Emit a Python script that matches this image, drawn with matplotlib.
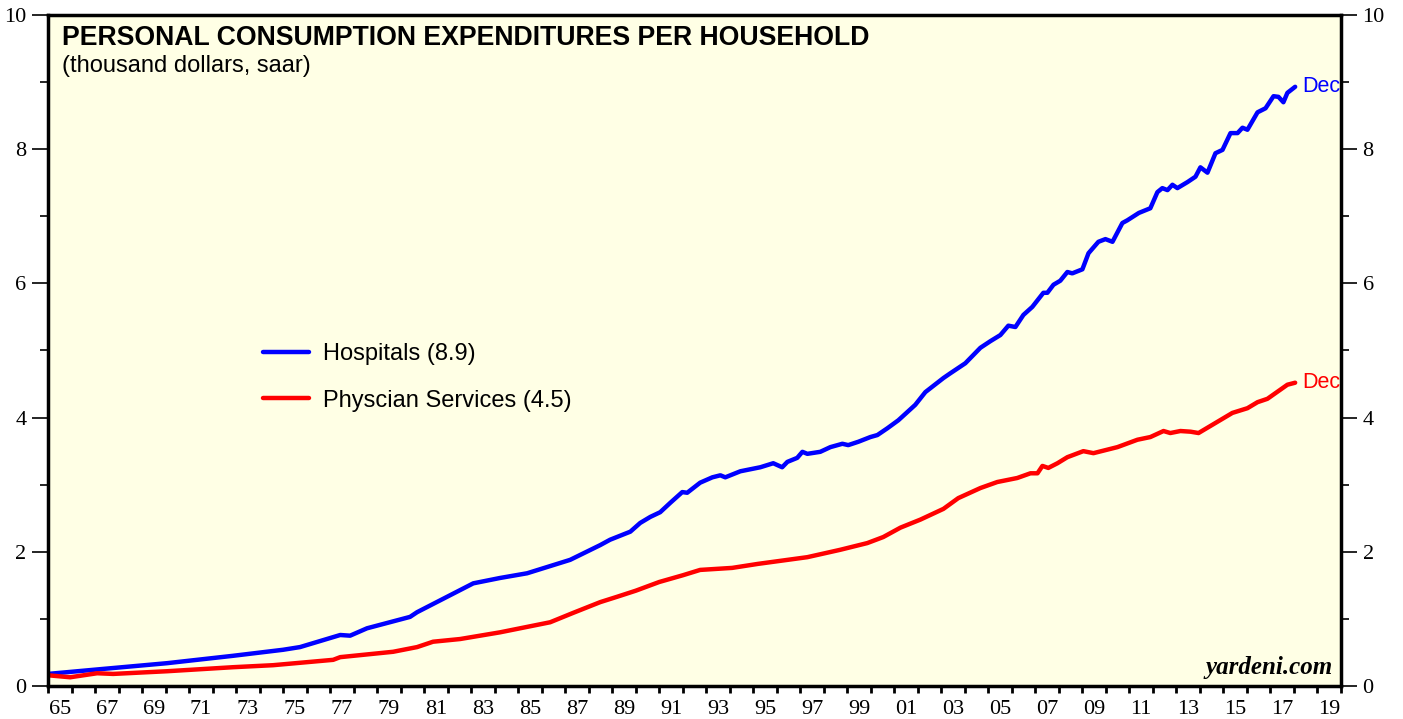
import matplotlib.pyplot as plt
from matplotlib.ticker import FixedLocator, NullFormatter

# readings (thousand dollars, saar), last point = Dec 2017
hosp_t = [1965.0, 1967.2, 1970.06, 1972.87, 1975.0, 1975.72, 1977.43, 1977.85, 1978.57, 1980.4,
          1980.7, 1983.09, 1984.23, 1985.38, 1987.21, 1988.49, 1988.91, 1989.77, 1990.19, 1990.62,
          1991.04, 1991.47, 1991.98, 1992.19, 1992.74, 1993.26, 1993.6, 1993.81, 1994.45, 1995.3,
          1995.85, 1996.23, 1996.45, 1996.87, 1997.09, 1997.3, 1997.85, 1998.28, 1998.79, 1999.04,
          1999.47, 1999.98, 2000.28, 2000.7, 2001.17, 2001.89, 2002.32, 2003.09, 2003.38, 2004.02,
          2004.66, 2005.09, 2005.51, 2005.85, 2006.15, 2006.49, 2006.87, 2007.34, 2007.51, 2007.77,
          2008.06, 2008.36, 2008.57, 2009.0, 2009.26, 2009.68, 2009.98, 2010.28, 2010.7, 2010.91,
          2011.4, 2011.89, 2012.19, 2012.4, 2012.62, 2012.83, 2013.04, 2013.47, 2013.81, 2014.02,
          2014.32, 2014.66, 2014.96, 2015.3, 2015.6, 2015.81, 2016.02, 2016.45, 2016.79, 2017.13,
          2017.34, 2017.55, 2017.72, 2018.05]
hospitals = [0.18, 0.25, 0.34, 0.45, 0.54, 0.58, 0.76, 0.75, 0.86, 1.03,
             1.10, 1.53, 1.61, 1.68, 1.88, 2.10, 2.18, 2.30, 2.43, 2.52,
             2.59, 2.73, 2.89, 2.88, 3.03, 3.11, 3.14, 3.11, 3.20, 3.26,
             3.32, 3.26, 3.34, 3.40, 3.49, 3.46, 3.49, 3.56, 3.61, 3.59,
             3.64, 3.71, 3.74, 3.84, 3.96, 4.19, 4.38, 4.59, 4.66, 4.81,
             5.04, 5.14, 5.23, 5.37, 5.35, 5.53, 5.65, 5.86, 5.86, 5.98,
             6.04, 6.17, 6.15, 6.21, 6.45, 6.62, 6.66, 6.62, 6.90, 6.94,
             7.05, 7.12, 7.36, 7.42, 7.39, 7.47, 7.42, 7.51, 7.59, 7.73,
             7.65, 7.94, 7.99, 8.24, 8.24, 8.32, 8.29, 8.55, 8.61, 8.79,
             8.78, 8.70, 8.84, 8.93]

phys_t = [1965.0, 1965.94, 1967.09, 1967.77, 1970.06, 1972.87, 1974.57, 1977.13, 1977.43, 1979.68,
          1980.7, 1981.38, 1982.53, 1984.23, 1986.36, 1987.34, 1988.49, 1989.21, 1990.0, 1991.0,
          1992.0, 1992.74, 1994.1, 1995.2, 1997.3, 1998.7, 1999.85, 2000.53, 2001.26, 2002.11,
          2003.09, 2003.72, 2004.66, 2005.38, 2006.23, 2006.79, 2007.09, 2007.3, 2007.55, 2007.94,
          2008.36, 2009.04, 2009.47, 2010.49, 2011.34, 2011.89, 2012.45, 2012.74, 2013.17, 2013.6,
          2013.94, 2014.66, 2015.38, 2016.02, 2016.45, 2016.87, 2017.72, 2018.05]
physicians = [0.16, 0.13, 0.19, 0.18, 0.22, 0.28, 0.31, 0.39, 0.43, 0.51,
              0.58, 0.66, 0.70, 0.80, 0.95, 1.09, 1.25, 1.33, 1.42, 1.55,
              1.65, 1.73, 1.76, 1.82, 1.92, 2.03, 2.13, 2.22, 2.36, 2.48,
              2.64, 2.80, 2.95, 3.04, 3.10, 3.17, 3.17, 3.28, 3.25, 3.32,
              3.41, 3.50, 3.47, 3.56, 3.67, 3.71, 3.80, 3.77, 3.80, 3.79,
              3.77, 3.92, 4.07, 4.14, 4.23, 4.28, 4.49, 4.52]

BLUE = "#0000ff"
RED = "#ff0000"
SERIF = "Liberation Serif"
SANS = "Liberation Sans"

fig = plt.figure(figsize=(14.03, 7.19), dpi=100)
ax = fig.add_axes([48 / 1403, 33 / 719, 1293 / 1403, 671 / 719])
ax.set_facecolor("#ffffe5")

ax.plot(hosp_t, hospitals, color=BLUE, lw=3.2, solid_capstyle="round",
        solid_joinstyle="round", label="Hospitals (8.9)")
ax.plot(phys_t, physicians, color=RED, lw=3.2, solid_capstyle="round",
        solid_joinstyle="round", label="Physcian Services (4.5)")

ax.set_xlim(1965, 2020)
ax.set_ylim(0, 10)

# x: tick marks on year boundaries, labels centred on odd years
ax.xaxis.set_major_locator(FixedLocator(range(1965, 2021)))
ax.xaxis.set_major_formatter(NullFormatter())
ax.xaxis.set_minor_locator(FixedLocator([y + 0.5 for y in range(1965, 2020, 2)]))
ax.set_xticklabels([f"{y % 100:02d}" for y in range(1965, 2020, 2)], minor=True)
ax.tick_params(axis="x", which="major", direction="out", length=5, width=2)
ax.tick_params(axis="x", which="minor", length=0, pad=10, labelsize=16)

ax.set_yticks(range(0, 11, 2))
ax.set_yticks(range(1, 10, 2), minor=True)
ax.tick_params(axis="y", which="major", direction="out", length=11.5, width=1.2,
               labelsize=16, left=True, right=True, labelleft=True, labelright=True, pad=4)
ax.tick_params(axis="y", which="minor", direction="out", length=6, width=1.2,
               left=True, right=True)

for lab in ax.get_xticklabels(minor=True) + ax.get_yticklabels():
    lab.set_fontfamily(SERIF)

for sp in ax.spines.values():
    sp.set_linewidth(2.5)

ax.text(0.011, 0.985, "PERSONAL CONSUMPTION EXPENDITURES PER HOUSEHOLD",
        transform=ax.transAxes, fontsize=19.2, fontweight="bold", family=SANS,
        va="top", ha="left")
ax.text(0.011, 0.94, "(thousand dollars, saar)", transform=ax.transAxes,
        fontsize=17, family=SANS, va="top", ha="left")

ax.text(hosp_t[-1] + 0.3, hospitals[-1], "Dec", color=BLUE, fontsize=15.5,
        family=SANS, va="center", ha="left")
ax.text(phys_t[-1] + 0.3, physicians[-1], "Dec", color=RED, fontsize=15.5,
        family=SANS, va="center", ha="left")

ax.text(0.994, 0.01, "yardeni.com", transform=ax.transAxes, fontsize=18,
        family=SERIF, fontweight="bold", fontstyle="italic", ha="right", va="bottom")

leg = ax.legend(loc="upper left", bbox_to_anchor=(0.150, 0.543), frameon=False,
                prop={"family": SANS, "size": 17}, handlelength=1.95,
                labelspacing=1.05, handletextpad=0.6)

plt.savefig("out.png", dpi=100)
